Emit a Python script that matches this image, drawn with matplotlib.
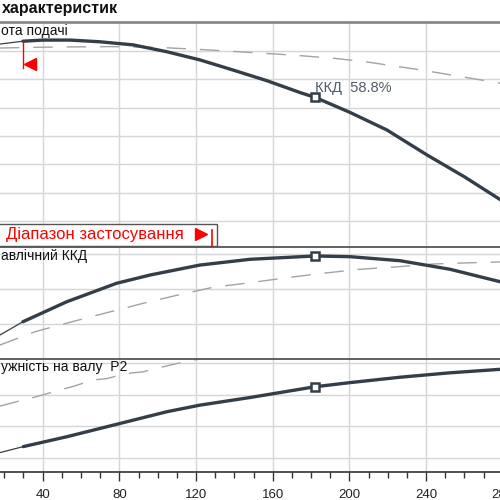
import numpy as np
import matplotlib.pyplot as plt

plt.rcParams['font.family'] = ['Liberation Sans', 'DejaVu Sans']

# flow, m3/h
q_head = [17.7, 29.7, 40, 54.3, 69.9, 87.3, 104.7, 122.1, 139.5, 156.9, 174.3, 182.1,
          200, 219.6, 240.5, 260, 278.6, 283]
head = [62.4, 63.4, 63.8, 63.8, 63.2, 62.1, 59.7, 56.8, 53.2, 49.5, 45.3, 43.6,
        38.4, 32.1, 23.3, 15.6, 7.6, 5.5]
q_head_ref = [17.7, 40, 75, 101, 122, 151.7, 170.6, 191.6, 208, 238, 262, 277, 283]
head_ref = [61.0, 61.3, 61.5, 61.2, 60.5, 59.3, 58.5, 57.4, 56.2, 53.2, 50.5, 48.8, 48.0]

q_eff = [17.7, 29.7, 52.5, 78.6, 96, 122, 148.2, 182.1, 200.3, 226.4, 252.5, 278.6, 283]
eff = [13.7, 21.3, 32.7, 43.3, 48.0, 53.7, 57.0, 58.9, 58.5, 56.2, 51.3, 44.2, 43.0]
q_eff_ref = [17.7, 36, 55.3, 73.6, 92.3, 110.6, 128.9, 148.2, 167.5, 186.3, 205.5, 224.9,
             243.6, 262.9, 275, 283]
eff_ref = [8.0, 15.6, 21.3, 26.5, 31.8, 36.6, 41.0, 43.6, 46.5, 49.0, 51.3, 52.7,
           54.3, 55.0, 55.4, 55.6]

q_pow = [17.7, 29.9, 52.5, 80.3, 104.7, 122.1, 148.2, 182.1, 200.3, 226.4, 252.5, 278.6, 283]
power = [11.7, 13.6, 16.7, 20.9, 24.6, 26.7, 29.1, 32.5, 33.8, 35.5, 36.9, 38.0, 38.2]
q_pow_ref = [17.7, 29.7, 37, 49, 55.3, 66.2, 73.6, 84, 92.3, 102.8, 110.6, 120.5, 125]
power_ref = [26.4, 28.3, 29.4, 31.5, 32.5, 34.6, 35.1, 36.7, 37.2, 38.8, 39.9, 41.1, 41.8]

q_min = 29.7
duty_q = 182.1
duty_eff_text = "ККД  58.8%"

dark = '#343e48'
ref_col = '#a3a3a3'
grid_col = '#d6d6d6'

x_left = 17.74
x_right = 17.74 + 510 / 1.9167

fig = plt.figure(figsize=(5, 5), dpi=100)


def panel(bottom_px, top_px, ylim, yticks):
    ax = fig.add_axes([0, 1 - bottom_px / 500, 510 / 500, (bottom_px - top_px) / 500])
    ax.set_xticks(np.arange(40, 281, 40))
    ax.set_yticks(yticks)
    ax.set_xlim(x_left, x_right)
    ax.set_ylim(*ylim)
    ax.grid(True, color=grid_col, linewidth=1)
    ax.tick_params(left=False, labelleft=False, bottom=False, labelbottom=False)
    for s in ['left', 'right', 'bottom']:
        ax.spines[s].set_visible(False)
    ax.set_facecolor('none')
    return ax


def curve(ax, q, v, q_ref, v_ref):
    q = np.array(q)
    v = np.array(v)
    ax.plot(q_ref, v_ref, color=ref_col, linewidth=1, dashes=(14, 10))
    thin = q <= q_min + 0.5
    ax.plot(q[thin], v[thin], color=dark, linewidth=0.9, solid_capstyle='butt')
    ax.plot(q[q >= q_min - 0.5], v[q >= q_min - 0.5], color=dark, linewidth=2.4,
            solid_capstyle='round', solid_joinstyle='round')
    dv = np.interp(duty_q, q, v)
    ax.plot([duty_q], [dv], marker='s', markersize=6, markerfacecolor='white',
            markeredgecolor=dark, markeredgewidth=1.8)
    return dv


# head
ax1 = panel(246.7, 22.5, (-9.06, 70.0), [0, 10, 20, 30, 40, 50, 60])
ax1.spines['top'].set_color('#8a8a8a')
ax1.spines['top'].set_linewidth(2)
curve(ax1, q_head, head, q_head_ref, head_ref)
ax1.text(duty_q, 46.9, duty_eff_text, fontsize=10.5, color='#4f5b68', ha='left', va='center')
ax1.plot([q_min, q_min], [53.9, 63.5], color='red', linewidth=1)
ax1.plot([q_min + 3.6], [55.5], marker='<', color='red', markersize=8)
fig.text(1 / 500, 1 - 31 / 500, "ота подачі", fontsize=10, ha='left', va='center',
         color='#111111')

# efficiency
ax2 = panel(359, 246.7, (0, 64.2), [0, 20, 40, 60])
ax2.spines['top'].set_color('#555555')
ax2.spines['top'].set_linewidth(1.3)
curve(ax2, q_eff, eff, q_eff_ref, eff_ref)
fig.text(1 / 500, 1 - 256 / 500, "авлічний ККД", fontsize=10, ha='left', va='center',
         color='#111111')

# power
ax3 = panel(472, 359, (5.58, 41.26), [10, 20, 30, 40])
ax3.spines['top'].set_color('#555555')
ax3.spines['top'].set_linewidth(1.3)
ax3.spines['bottom'].set_visible(True)
ax3.spines['bottom'].set_color('#333333')
ax3.spines['bottom'].set_linewidth(1.2)
ax3.set_xticks(np.arange(20, 281, 10), minor=True)
ax3.set_xlim(x_left, x_right)
ax3.tick_params(bottom=True, labelbottom=True, which='major', length=6.5, width=1,
                color='#333333', labelsize=9.5, labelcolor='#222222', pad=6)
ax3.tick_params(which='minor', bottom=True, length=4.3, width=1, color='#333333')
curve(ax3, q_pow, power, q_pow_ref, power_ref)
fig.text(1 / 500, 1 - 367 / 500, "ужність на валу  P2", fontsize=10, ha='left',
         va='center', color='#111111')

# range box
box = plt.Rectangle((-0.02, 1 - 246 / 500), 217.3 / 500 + 0.02, 21.7 / 500,
                    transform=fig.transFigure, facecolor='white', edgecolor='#555555',
                    linewidth=1, zorder=5)
fig.patches.append(box)
fig.text(6 / 500, 1 - 235 / 500, "Діапазон застосування", color='red', fontsize=12,
         ha='left', va='center', zorder=6)
fig.lines.append(plt.Line2D([200.5 / 500], [1 - 234 / 500], marker='>', color='red',
                            markersize=8, transform=fig.transFigure, zorder=6))
fig.lines.append(plt.Line2D([211.7 / 500, 211.7 / 500], [1 - 230 / 500, 1 - 246 / 500],
                            color='red', linewidth=1.2, transform=fig.transFigure, zorder=6))

fig.text(2 / 500, 1 - 8.5 / 500, "характеристик", fontsize=11.5, fontweight='bold',
         ha='left', va='center', color='#111111')

fig.savefig('out.png', dpi=100)
